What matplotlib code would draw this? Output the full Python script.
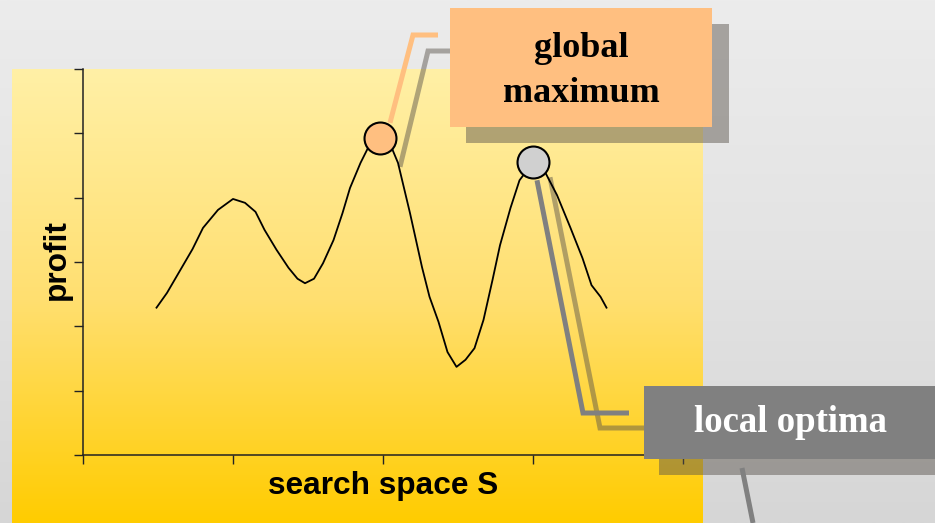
import matplotlib.pyplot as plt
import numpy as np
from matplotlib.patches import Rectangle

# profit landscape (search space position, profit)
search_x = [0.49, 0.56, 0.65, 0.73, 0.80, 0.90, 1.00, 1.08, 1.15, 1.21, 1.29, 1.37,
            1.43, 1.48, 1.54, 1.60, 1.67, 1.73, 1.78, 1.85, 1.91, 1.98, 2.05, 2.10,
            2.18, 2.26, 2.31, 2.37, 2.43, 2.49, 2.55, 2.61, 2.67, 2.73, 2.78, 2.85,
            2.91, 3.00, 3.08, 3.16, 3.25, 3.33, 3.39, 3.45, 3.49]
profit_y = [2.29, 2.52, 2.88, 3.20, 3.53, 3.81, 3.98, 3.92, 3.78, 3.50, 3.19, 2.91,
            2.74, 2.67, 2.74, 2.98, 3.34, 3.76, 4.15, 4.54, 4.82, 4.93, 4.82, 4.54,
            3.76, 2.92, 2.46, 2.07, 1.60, 1.37, 1.48, 1.66, 2.10, 2.72, 3.26, 3.84,
            4.27, 4.55, 4.40, 4.04, 3.53, 3.06, 2.64, 2.46, 2.29]

# the two marked peaks
global_max = (1.98, 4.93)
local_opt = (3.00, 4.55)

x_ticks = [0, 1, 2, 3, 4]
y_ticks = [0, 1, 2, 3, 4, 5, 6]

W, H = 935, 523
SHADOW = '#5a544c'
SH_ALPHA = 0.48

fig = plt.figure(figsize=(W / 100, H / 100), dpi=100)


def gradient(stop_y, stop_rgb, y0, y1):
    ys = np.linspace(y0, y1, 256)
    rgb = np.array(stop_rgb, dtype=float)
    cols = np.stack([np.interp(ys, stop_y, rgb[:, i]) for i in range(3)], axis=1) / 255
    return cols[:, None, :]


# back layer: background, yellow panel, leader lines (pixel coordinates)
back = fig.add_axes([0, 0, 1, 1], zorder=0)
back.axis('off')
back.imshow(gradient([0, 260, 523], [(236, 236, 236), (227, 227, 227), (214, 214, 214)], 0, H),
            extent=(0, W, H, 0), aspect='auto', origin='upper', zorder=0)
back.imshow(gradient([69, 300, 523], [(255, 240, 166), (255, 223, 112), (255, 204, 0)], 69, H),
            extent=(12, 703, H, 69), aspect='auto', origin='upper', zorder=1)
back.set_xlim(0, W)
back.set_ylim(H, 0)

# main chart
ax = fig.add_axes([83 / W, (H - 455) / H, 600 / W, 386 / H], zorder=1)
ax.patch.set_alpha(0)
ax.set_xlim(0, 4)
ax.set_ylim(0, 6)
ax.set_xticks(x_ticks)
ax.set_yticks(y_ticks)
ax.set_xticklabels([])
ax.set_yticklabels([])
ax.tick_params(length=6.5, width=1, color='#222222')
for s in ['top', 'right']:
    ax.spines[s].set_visible(False)
for s in ['left', 'bottom']:
    ax.spines[s].set_color('#222222')
    ax.spines[s].set_linewidth(1.1)

ax.plot(search_x, profit_y, color='black', lw=1.3)
ax.plot(*global_max, 'o', ms=23, mfc='#ffbf80', mec='black', mew=1.5, clip_on=False, zorder=5)
ax.plot(*local_opt, 'o', ms=23, mfc='#d0d0d0', mec='black', mew=1.5, clip_on=False, zorder=5)


def to_px(pt):
    dx, dy = ax.transData.transform(pt)
    return dx, H - dy


gx, gy = to_px(global_max)
lx, ly = to_px(local_opt)

lw_lead = 3.6
back.plot([gx + 20, 428, 452], [gy + 29, 51, 51], color=SHADOW, alpha=SH_ALPHA, lw=lw_lead,
          solid_capstyle='butt', solid_joinstyle='miter', zorder=2)
back.plot([gx + 10, 413, 438], [gy - 15, 35, 35], color='#ffbf80', lw=lw_lead,
          solid_capstyle='butt', solid_joinstyle='miter', zorder=3)
back.plot([lx + 17, 600, 646], [ly + 15, 428, 428], color=SHADOW, alpha=SH_ALPHA, lw=lw_lead,
          solid_capstyle='butt', solid_joinstyle='miter', zorder=2)
back.plot([lx + 4, 583, 629], [ly + 18, 413, 413], color='#808080', lw=lw_lead,
          solid_capstyle='butt', solid_joinstyle='miter', zorder=3)

# front layer: callout boxes and labels
front = fig.add_axes([0, 0, 1, 1], zorder=2)
front.set_xlim(0, W)
front.set_ylim(H, 0)
front.axis('off')

front.add_patch(Rectangle((466, 24), 263, 119, fc=SHADOW, alpha=SH_ALPHA, lw=0))
front.add_patch(Rectangle((450, 8), 262, 119, fc='#ffbf80', lw=0))
front.text(581, 71, 'global\nmaximum', ha='center', va='center', fontsize=26,
           fontweight='bold', family='Liberation Serif', linespacing=1.45, color='black')

front.add_patch(Rectangle((659, 402), 300, 73, fc=SHADOW, alpha=SH_ALPHA, lw=0))
front.add_patch(Rectangle((644, 386), 300, 73, fc='#808080', lw=0))
front.text(790, 423, 'local optima', ha='center', va='center', fontsize=26.5,
           fontweight='bold', family='Liberation Serif', color='white')
front.plot([742, 753], [468, 523], color='#808080', lw=lw_lead, solid_capstyle='butt')

front.text(383, 486, 'search space S', ha='center', va='center', fontsize=22.8,
           fontweight='bold', family='Liberation Sans', color='black')
front.text(57, 260, 'profit', ha='center', va='center', rotation=90, fontsize=22.8,
           fontweight='bold', family='Liberation Sans', color='black')

fig.savefig('out.png', dpi=100)
